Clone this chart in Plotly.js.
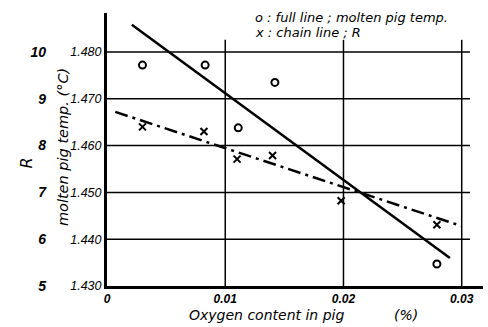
<!DOCTYPE html>
<html><head><meta charset="utf-8">
<script src="https://cdn.plot.ly/plotly-3.0.1.min.js"></script>
<style>html,body{margin:0;padding:0;background:#fff;}#chart{width:488px;height:327px;}</style>
</head><body><div id="chart"></div>
<script>
// Data
const tempOxygen = [0.003, 0.0083, 0.0111, 0.0142, 0.0279];
const moltenPigTemp = [1.4772, 1.4772, 1.4638, 1.4735, 1.4347];
const rOxygen = [0.003, 0.0082, 0.011, 0.014, 0.0198, 0.0279];
const rValues = [8.40, 8.30, 7.71, 7.79, 6.82, 6.31];
const tempFitX = [0.0021, 0.0290];
const tempFitY = [1.4858, 1.4360];
const rFitX = [0.0007, 0.0300];
const rFitY = [8.72, 6.28];
const xTickVals = [0, 0.01, 0.02, 0.03];
const xTickText = ['0', '0.01', '0.02', '0.03'];
const tempTickVals = [1.43, 1.44, 1.45, 1.46, 1.47, 1.48];
const tempTickText = ['1.430', '1.440', '1.450', '1.460', '1.470', '1.480'];
const rTickVals = [5, 6, 7, 8, 9, 10];
const rTickText = ['5', '6', '7', '8', '9', '10'];

const FONT = 'Liberation Sans, DejaVu Sans, sans-serif';
const WIDE = 'DejaVu Sans, sans-serif';
const tempRange = [1.430, 1.48833];
const rRange = [5 + (tempRange[0] - 1.43) * 100, 5 + (tempRange[1] - 1.43) * 100];

const shapes = [];
tempTickVals.slice(1).forEach(v => shapes.push({type: 'line', xref: 'x', yref: 'y', x0: 0, x1: 0.0307, y0: v, y1: v, line: {color: '#000', width: 1.5}}));
xTickVals.slice(1).forEach(v => shapes.push({type: 'line', xref: 'x', yref: 'y', x0: v, x1: v, y0: tempRange[0], y1: 1.4826, line: {color: '#000', width: 1.5}}));

const traces = [
  {x: tempOxygen, y: moltenPigTemp, mode: 'markers', type: 'scatter', yaxis: 'y',
   marker: {symbol: 'circle-open', size: 7, color: '#000', line: {width: 2, color: '#000'}}},
  {x: tempFitX, y: tempFitY, mode: 'lines', type: 'scatter', yaxis: 'y',
   line: {color: '#000', width: 2.5}},
  {x: rOxygen, y: rValues, mode: 'markers', type: 'scatter', yaxis: 'y2',
   marker: {symbol: 'x-thin-open', size: 7, color: '#000', line: {width: 2, color: '#000'}}},
  {x: rFitX, y: rFitY, mode: 'lines', type: 'scatter', yaxis: 'y2',
   line: {color: '#000', width: 2.5, dash: '13px,5px,3px,5px'}}
];

const italic = (size, fam) => ({family: fam || FONT, size: size, style: 'italic', color: '#000'});

const layout = {
  width: 488, height: 327,
  margin: {l: 46, r: 5, t: 13, b: 41},
  paper_bgcolor: '#fff', plot_bgcolor: 'rgba(0,0,0,0)',
  showlegend: false,
  font: {family: FONT, color: '#000'},
  xaxis: {domain: [0.1396, 1], range: [0, 0.0318], showgrid: false, zeroline: false,
    showline: true, linewidth: 3, linecolor: '#000', ticks: '',
    tickmode: 'array', tickvals: xTickVals, ticktext: xTickText,
    tickfont: {family: FONT, size: 12, style: 'italic', weight: 'bold', color: '#000'}},
  yaxis: {range: tempRange, anchor: 'x', showgrid: false, zeroline: false,
    showline: true, linewidth: 3, linecolor: '#000', ticks: '',
    tickmode: 'array', tickvals: tempTickVals, ticktext: tempTickText,
    tickfont: italic(12.5)},
  yaxis2: {range: rRange, overlaying: 'y', anchor: 'free', position: 0, side: 'left',
    showgrid: false, zeroline: false, showline: false, ticks: '',
    tickmode: 'array', tickvals: rTickVals, ticktext: rTickText,
    tickfont: {family: FONT, size: 14, style: 'italic', weight: 'bold', color: '#000'}},
  shapes: shapes,
  annotations: [
    {text: 'R', xref: 'paper', yref: 'paper', x: -0.045, y: 0.45, xanchor: 'center', yanchor: 'middle',
     textangle: -90, showarrow: false, font: italic(16, WIDE)},
    {text: 'molten pig temp. (°C)', xref: 'paper', yref: 'paper', x: 0.039, y: 0.509, xanchor: 'center', yanchor: 'middle',
     textangle: -90, showarrow: false, font: italic(14.5, WIDE)},
    {text: 'Oxygen content in pig', xref: 'paper', yref: 'paper', x: 0.5046, y: -0.106,
     xanchor: 'center', yanchor: 'middle', showarrow: false, font: italic(14, WIDE)},
    {text: '(%)', xref: 'paper', yref: 'paper', x: 0.8238, y: -0.106,
     xanchor: 'center', yanchor: 'middle', showarrow: false, font: italic(14, WIDE)},
    {text: 'o : full line ; molten pig temp.', xref: 'paper', yref: 'paper', x: 0.4737, y: 0.985,
     xanchor: 'left', yanchor: 'middle', showarrow: false, font: italic(13, WIDE)},
    {text: 'x : chain line ; R', xref: 'paper', yref: 'paper', x: 0.4737, y: 0.927,
     xanchor: 'left', yanchor: 'middle', showarrow: false, font: italic(13, WIDE)}
  ]
};

Plotly.newPlot('chart', traces, layout, {staticPlot: true, displayModeBar: false});
</script>
</body></html>
